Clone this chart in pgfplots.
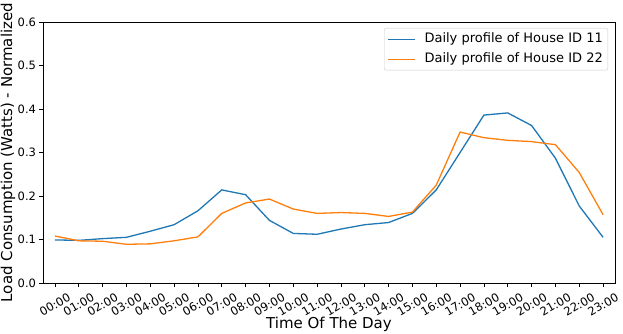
\documentclass[border=0pt]{standalone}
\usepackage{pgfplots}
\pgfplotsset{compat=1.18}
\usepackage{fontspec}
\setmainfont{DejaVu Sans}
\definecolor{mplblue}{HTML}{1F77B4}
\definecolor{mplorange}{HTML}{FF7F0E}

\begin{document}
\begin{tikzpicture}
\begin{axis}[
  name=ax,
  scale only axis,
  width=572bp, height=261bp,
  xmin=-0.5, xmax=23.5,
  ymin=0, ymax=0.6,
  xtick={0,...,23},
  xticklabels={00:00,01:00,02:00,03:00,04:00,05:00,06:00,07:00,08:00,09:00,10:00,11:00,
    12:00,13:00,14:00,15:00,16:00,17:00,18:00,19:00,20:00,21:00,22:00,23:00},
  ytick={0,0.1,...,0.6},
  yticklabel style={/pgf/number format/.cd, fixed, fixed zerofill, precision=1},
  /pgf/number format/assume math mode=true,
  tick align=outside,
  tick pos=left,
  major tick length=3.5bp,
  every tick/.style={black, line width=0.8bp},
  axis line style={black, line width=0.8bp},
  tick label style={font=\fontsize{11.5bp}{13bp}\selectfont},
  xticklabel style={yshift=-18bp, rotate=30, anchor=center},
  xlabel={Time Of The Day},
  ylabel={Load Consumption (Watts) - Normalized},
  every axis x label/.style={at={(axis description cs:0.5,0)}, anchor=base, yshift=-45bp,
    font=\fontsize{15bp}{17bp}\selectfont},
  every axis y label/.style={at={([xshift=-35bp]axis description cs:0,0.5)}, anchor=center, rotate=90,
    font=\fontsize{15bp}{17bp}\selectfont},
  legend style={
    at={([xshift=-7bp,yshift=-6bp]axis description cs:1,1)}, anchor=north east,
    font=\fontsize{13bp}{15bp}\selectfont,
    draw=black!20, rounded corners=2bp, fill=white,
    inner xsep=3bp, inner ysep=3bp,
    row sep=4bp,
    nodes={inner sep=2bp, text height=9.5bp, text depth=2.5bp},
    /tikz/every odd column/.append style={column sep=7bp},
  },
  legend cell align=left,
  legend image code/.code={\draw[#1] (0bp,0bp) -- (27bp,0bp);},
]
\addplot[color=mplblue, line width=1.3bp] coordinates {
  (0,0.099) (1,0.098) (2,0.102) (3,0.105) (4,0.119) (5,0.134)
  (6,0.166) (7,0.214) (8,0.203) (9,0.144) (10,0.114) (11,0.112)
  (12,0.124) (13,0.134) (14,0.139) (15,0.160) (16,0.214) (17,0.300)
  (18,0.386) (19,0.391) (20,0.362) (21,0.287) (22,0.177) (23,0.105)
};
\addlegendentry{Daily profile of House ID 11}
\addplot[color=mplorange, line width=1.3bp] coordinates {
  (0,0.108) (1,0.097) (2,0.096) (3,0.089) (4,0.090) (5,0.097)
  (6,0.106) (7,0.160) (8,0.184) (9,0.193) (10,0.170) (11,0.160)
  (12,0.162) (13,0.160) (14,0.153) (15,0.163) (16,0.225) (17,0.347)
  (18,0.334) (19,0.328) (20,0.325) (21,0.318) (22,0.254) (23,0.157)
};
\addlegendentry{Daily profile of House ID 22}
\end{axis}
\pgfresetboundingbox
\path[use as bounding box] ([xshift=-43bp,yshift=-51bp]ax.south west) rectangle ([xshift=8bp,yshift=22bp]ax.north east);
\end{tikzpicture}
\end{document}
